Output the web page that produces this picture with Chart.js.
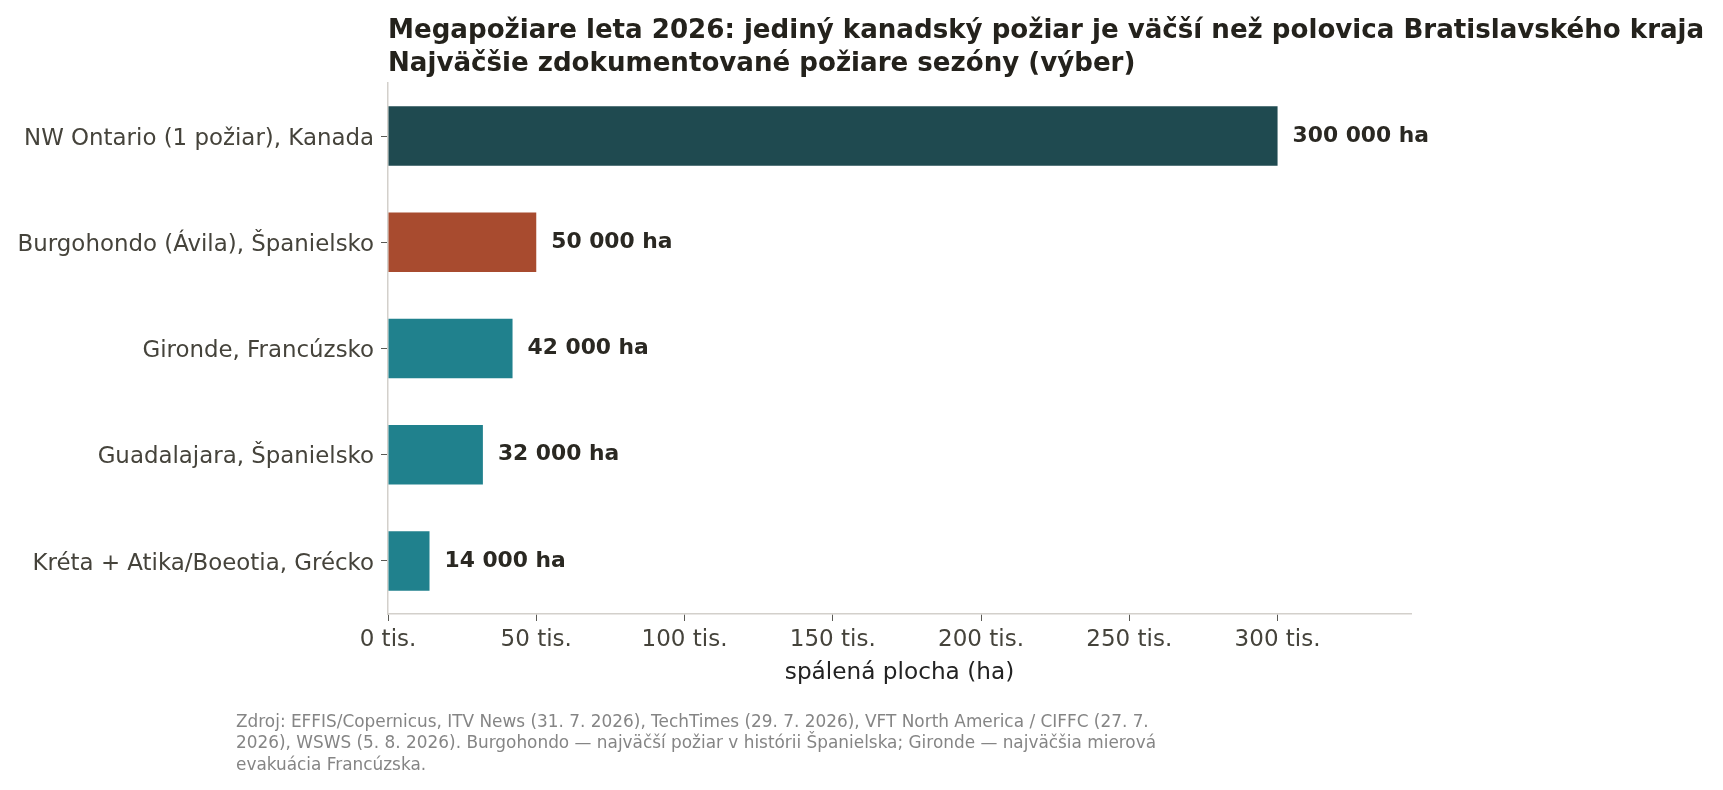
<!DOCTYPE html>
<html lang="sk">
<head>
<meta charset="utf-8">
<title>Megapožiare leta 2026</title>
<script src="https://cdn.jsdelivr.net/npm/chart.js@4.4.1/dist/chart.umd.min.js"></script>
<style>
  body { margin: 0; background: #fff; font-family: "DejaVu Sans", sans-serif; }
  #wrap { position: relative; width: 1723px; height: 790px; overflow: hidden; }
  #chart { position: absolute; left: 0; top: 0; }
  .title { position: absolute; left: 388px; top: 13px; font-size: 26.1px; line-height: 33px; font-weight: bold; color: #24221c; white-space: nowrap; }
  .source { position: absolute; left: 236px; top: 711px; font-size: 16.9px; line-height: 21.4px; color: #858585; white-space: nowrap; }
</style>
</head>
<body>
<div id="wrap">
  <canvas id="chart" width="1723" height="790"></canvas>
  <div class="title">Megapožiare leta 2026: jediný kanadský požiar je väčší než polovica Bratislavského kraja<br>Najväčšie zdokumentované požiare sezóny (výber)</div>
  <div class="source">Zdroj: EFFIS/Copernicus, ITV News (31. 7. 2026), TechTimes (29. 7. 2026), VFT North America / CIFFC (27. 7.<br>2026), WSWS (5. 8. 2026). Burgohondo — najväčší požiar v histórii Španielska; Gironde — najväčšia mierová<br>evakuácia Francúzska.</div>
</div>
<script>
var fires = [
    'NW Ontario (1 požiar), Kanada',
    'Burgohondo (Ávila), Španielsko',
    'Gironde, Francúzsko',
    'Guadalajara, Španielsko',
    'Kréta + Atika/Boeotia, Grécko'
];
var hectares = [300000, 50000, 42000, 32000, 14000];
var xTicks = [0, 50000, 100000, 150000, 200000, 250000, 300000];
var xTickLabels = ['0 tis.', '50 tis.', '100 tis.', '150 tis.', '200 tis.', '250 tis.', '300 tis.'];
var axisMax = 345000;

var barColors = ['#1f4a50', '#a84b2f', '#20818d', '#20818d', '#20818d'];

function withSpaces(v) {
    return String(v).replace(/\B(?=(\d{3})+(?!\d))/g, ' ');
}

// popisky hodnôt za koncom stĺpca
var valueLabels = {
    id: 'valueLabels',
    afterDatasetsDraw: function(chart) {
        var ctx = chart.ctx;
        var meta = chart.getDatasetMeta(0);
        ctx.save();
        ctx.font = 'bold 21.8px "DejaVu Sans"';
        ctx.fillStyle = '#2a2822';
        ctx.textAlign = 'left';
        ctx.textBaseline = 'middle';
        meta.data.forEach(function(bar, i) {
            ctx.fillText(withSpaces(hectares[i]) + ' ha', bar.x + 15, bar.y);
        });
        ctx.restore();
    }
};

new Chart(document.getElementById('chart'), {
    type: 'bar',
    data: {
        labels: fires,
        datasets: [{
            data: hectares,
            backgroundColor: barColors,
            categoryPercentage: 1,
            barPercentage: 0.56
        }]
    },
    options: {
        indexAxis: 'y',
        responsive: false,
        animation: false,
        devicePixelRatio: 1,
        layout: { padding: { top: 83, right: 312, bottom: 103, left: 0 } },
        plugins: { legend: { display: false }, tooltip: { enabled: false } },
        scales: {
            y: {
                afterFit: function(s) { s.width = 388; },
                border: { color: '#d3d0cb', width: 1.5 },
                grid: { offset: false, drawOnChartArea: false, tickLength: 7, tickColor: '#5a5a55' },
                ticks: {
                    padding: 7,
                    color: '#45433b',
                    font: { family: 'DejaVu Sans', size: 22.9, lineHeight: '5.5px' },
                    // prázdny prvý riadok posunie popis o pár px nižšie
                    callback: function(v, i) { return ['', fires[i]]; }
                }
            },
            x: {
                type: 'linear',
                min: 0,
                max: axisMax,
                afterFit: function(s) { s.height = 73; },
                afterBuildTicks: function(s) {
                    s.ticks = xTicks.map(function(v) { return { value: v }; });
                },
                border: { color: '#d3d0cb', width: 1.5 },
                grid: { drawOnChartArea: false, tickLength: 7, tickColor: '#5a5a55' },
                ticks: {
                    autoSkip: false,
                    padding: 5,
                    maxRotation: 0,
                    color: '#45433b',
                    font: { family: 'DejaVu Sans', size: 23 },
                    callback: function(v, i) { return xTickLabels[i]; }
                },
                title: {
                    display: true,
                    text: 'spálená plocha (ha)',
                    color: '#222',
                    padding: { top: 4, bottom: 0 },
                    font: { family: 'DejaVu Sans', size: 23.2 }
                }
            }
        }
    },
    plugins: [valueLabels]
});
</script>
</body>
</html>
